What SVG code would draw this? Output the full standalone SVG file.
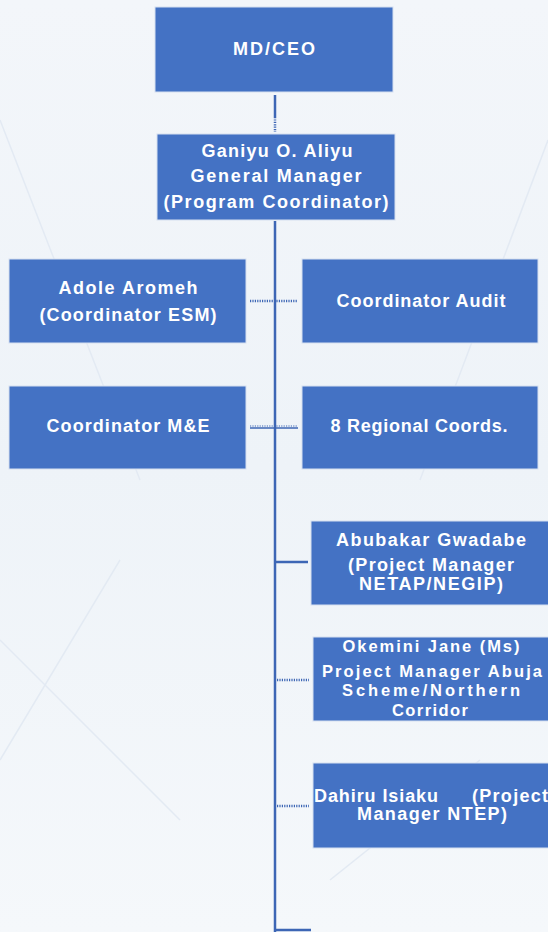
<svg xmlns="http://www.w3.org/2000/svg" width="548" height="932" viewBox="0 0 548 932">
<style>
.box{fill:#4472C4;stroke:#d6e0f0;stroke-width:1}
.t{font-family:"Liberation Sans",Arial,sans-serif;font-weight:bold;font-size:18px;fill:#ffffff;text-anchor:middle}
.s{font-size:16.5px}
.ln{stroke:#3d66b5;stroke-width:2.5;fill:none}
.dot{stroke:#3d66b5;stroke-width:2.5;fill:none;stroke-dasharray:1.2 1.2}
.bg{stroke:#e3eaf3;stroke-width:1.5;fill:none}
</style>
<defs>
<linearGradient id="sky" x1="0" y1="0" x2="0" y2="1">
<stop offset="0" stop-color="#f3f6fa"/>
<stop offset="0.5" stop-color="#eef3f8"/>
<stop offset="1" stop-color="#f5f8fb"/>
</linearGradient>
</defs>
<rect x="0" y="0" width="548" height="932" fill="url(#sky)"/>
<g id="background">
<path class="bg" d="M0 120 L140 480"/>
<path class="bg" d="M548 140 L420 480"/>
<path class="bg" d="M120 560 L0 760"/>
<path class="bg" d="M330 880 L480 760"/>
<path class="bg" d="M0 640 L180 820"/>
</g>
<g id="connectors">
<line class="ln" x1="275" y1="95" x2="275" y2="117"/>
<line class="dot" x1="275" y1="117" x2="275" y2="132"/>
<line class="ln" x1="275" y1="221" x2="275" y2="932"/>
<line class="dot" x1="250" y1="301" x2="298" y2="301"/>
<line class="ln" x1="250" y1="428" x2="298" y2="428" style="stroke-width:1.5"/>
<line class="dot" x1="250" y1="426" x2="298" y2="426" style="stroke-width:1"/>
<line class="ln" x1="275" y1="562" x2="308" y2="562"/>
<line class="dot" x1="277" y1="680" x2="309" y2="680"/>
<line class="dot" x1="277" y1="806" x2="309" y2="806"/>
<line class="ln" x1="275" y1="930" x2="311" y2="930"/>
</g>
<g id="mdceo">
<rect class="box" x="155" y="7" width="238" height="85"/>
<text class="t" x="274" y="55" textLength="82" lengthAdjust="spacing">MD/CEO</text>
</g>
<g id="gm">
<rect class="box" x="157" y="134" width="238" height="86"/>
<text class="t" x="277" y="157" textLength="151" lengthAdjust="spacing">Ganiyu O. Aliyu</text>
<text class="t" x="276" y="182" textLength="171" lengthAdjust="spacing">General Manager</text>
<text class="t" x="276" y="208" textLength="225" lengthAdjust="spacing">(Program Coordinator)</text>
</g>
<g id="adole">
<rect class="box" x="9" y="259" width="237" height="84"/>
<text class="t" x="128" y="294" textLength="139" lengthAdjust="spacing">Adole Aromeh</text>
<text class="t" x="128" y="321" textLength="177" lengthAdjust="spacing">(Coordinator ESM)</text>
</g>
<g id="audit">
<rect class="box" x="302" y="259" width="236" height="84"/>
<text class="t" x="421" y="307" textLength="169" lengthAdjust="spacing">Coordinator Audit</text>
</g>
<g id="me">
<rect class="box" x="9" y="386" width="237" height="83"/>
<text class="t" x="128" y="432" textLength="163" lengthAdjust="spacing">Coordinator M&amp;E</text>
</g>
<g id="regional">
<rect class="box" x="302" y="386" width="236" height="83"/>
<text class="t" x="419" y="432" textLength="177" lengthAdjust="spacing">8 Regional Coords.</text>
</g>
<g id="abubakar">
<rect class="box" x="311" y="521" width="238" height="84"/>
<text class="t" x="431" y="546" textLength="190" lengthAdjust="spacing">Abubakar Gwadabe</text>
<text class="t" x="431" y="571" textLength="166" lengthAdjust="spacing">(Project Manager</text>
<text class="t" x="431" y="590" textLength="144" lengthAdjust="spacing">NETAP/NEGIP)</text>
</g>
<g id="okemini">
<rect class="box" x="313" y="637" width="236" height="84"/>
<text class="t s" x="431" y="652" textLength="177" lengthAdjust="spacing">Okemini Jane (Ms)</text>
<text class="t s" x="432" y="677" textLength="220" lengthAdjust="spacing">Project Manager Abuja</text>
<text class="t s" x="431" y="696" textLength="178" lengthAdjust="spacing">Scheme/Northern</text>
<text class="t s" x="430" y="716" textLength="76" lengthAdjust="spacing">Corridor</text>
</g>
<g id="dahiru">
<rect class="box" x="313" y="763" width="236" height="85"/>
<text class="t" x="314" y="802" style="text-anchor:start" textLength="124" lengthAdjust="spacing">Dahiru Isiaku</text>
<text class="t" x="472" y="802" style="text-anchor:start" textLength="76" lengthAdjust="spacing">(Project</text>
<text class="t" x="432" y="820" textLength="150" lengthAdjust="spacing">Manager NTEP)</text>
</g>
</svg>
